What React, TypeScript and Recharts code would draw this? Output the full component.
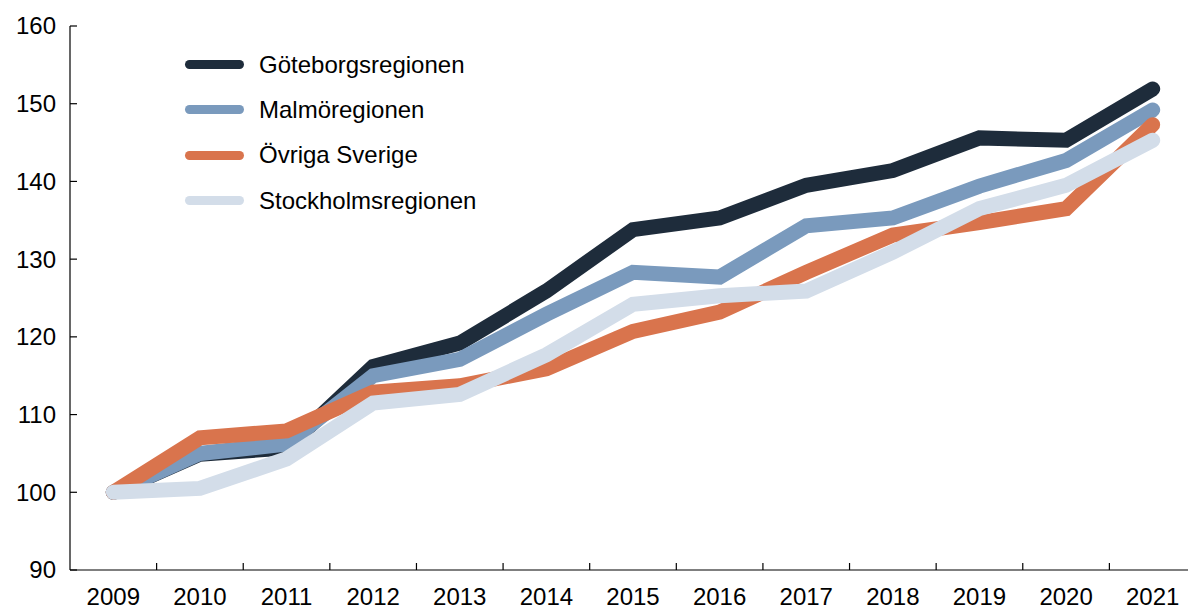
import { Line, LineChart, XAxis, YAxis } from 'recharts';

const years = ['2009', '2010', '2011', '2012', '2013', '2014', '2015', '2016', '2017', '2018', '2019', '2020', '2021'];

const goteborg = [100, 104.9, 105.7, 116.2, 119.2, 125.9, 133.8, 135.3, 139.5, 141.4, 145.6, 145.3, 151.9];
const malmo = [100, 105.0, 106.2, 115.0, 117.1, 122.9, 128.3, 127.7, 134.3, 135.3, 139.4, 142.7, 149.2];
const ovriga = [100, 107.0, 107.9, 112.9, 113.7, 115.9, 120.7, 123.2, 128.3, 133.1, 134.7, 136.5, 147.3];
const stockholm = [100, 100.5, 104.3, 111.5, 112.6, 117.7, 124.2, 125.3, 125.9, 130.9, 136.5, 139.5, 145.3];

const yTicks = [90, 100, 110, 120, 130, 140, 150, 160];

const series = [
  { key: 'goteborg', name: 'Göteborgsregionen', color: '#1e2c3b' },
  { key: 'malmo', name: 'Malmöregionen', color: '#7a9abd' },
  { key: 'ovriga', name: 'Övriga Sverige', color: '#d9744d' },
  { key: 'stockholm', name: 'Stockholmsregionen', color: '#d3dde9' },
];

const data = years.map((year, i) => ({
  year,
  goteborg: goteborg[i],
  malmo: malmo[i],
  ovriga: ovriga[i],
  stockholm: stockholm[i],
}));

const WIDTH = 1188;
const HEIGHT = 600;
const AXIS_W = 62;
const BAND = (WIDTH - AXIS_W) / years.length;
const FONT = '"Liberation Sans", Arial, sans-serif';

function YTick(props: any) {
  const { x, y, payload } = props;
  return (
    <g>
      <line x1={x} x2={x + 7} y1={y} y2={y} stroke="#000" strokeWidth={1.2} />
      <text x={x - 14} y={y} dy="0.35em" textAnchor="end" fontSize={24} fill="#000" fontFamily={FONT}>
        {payload.value}
      </text>
    </g>
  );
}

function XTick(props: any) {
  const { x, y, payload, index } = props;
  return (
    <g>
      {index < years.length - 1 && (
        <line x1={x + BAND / 2} x2={x + BAND / 2} y1={y} y2={y - 7} stroke="#000" strokeWidth={1.2} />
      )}
      <text x={x} y={y + 35} textAnchor="middle" fontSize={24} fill="#000" fontFamily={FONT}>
        {payload.value}
      </text>
    </g>
  );
}

function LegendBox() {
  return (
    <div style={{ position: 'absolute', top: 34, left: 177, fontFamily: FONT, fontSize: 24, color: '#000' }}>
      {series.map((s) => (
        <div key={s.key} style={{ display: 'flex', alignItems: 'center', height: 45.3 }}>
          <span
            style={{
              display: 'inline-block',
              width: 59,
              height: 9,
              borderRadius: 5,
              background: s.color,
              marginRight: 15,
            }}
          />
          <span>{s.name}</span>
        </div>
      ))}
    </div>
  );
}

export default function App() {
  return (
    <div style={{ position: 'relative', width: WIDTH, height: HEIGHT }}>
      <LineChart width={WIDTH} height={HEIGHT} data={data} margin={{ top: 18, right: 0, bottom: 0, left: 0 }}>
        <XAxis
          dataKey="year"
          height={38}
          padding={{ left: BAND / 2, right: BAND / 2 }}
          axisLine={{ stroke: '#000', strokeWidth: 1.2 }}
          tickLine={false}
          tickSize={0}
          tickMargin={0}
          interval={0}
          tick={<XTick />}
        />
        <YAxis
          width={AXIS_W}
          domain={[90, 160]}
          ticks={yTicks}
          axisLine={{ stroke: '#000', strokeWidth: 1.2 }}
          tickLine={false}
          tickSize={0}
          tickMargin={0}
          tick={<YTick />}
        />
        {series.map((s) => (
          <Line
            key={s.key}
            dataKey={s.key}
            name={s.name}
            stroke={s.color}
            strokeWidth={15}
            strokeLinecap="round"
            dot={false}
            activeDot={false}
            isAnimationActive={false}
          />
        ))}
      </LineChart>
      <LegendBox />
    </div>
  );
}
